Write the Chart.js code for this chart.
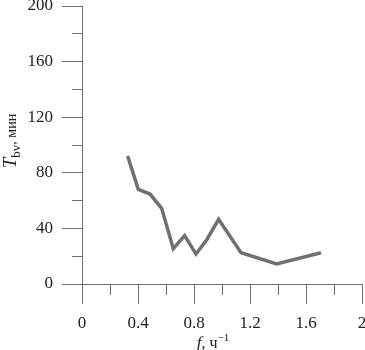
<!DOCTYPE html>
<html>
<head>
<meta charset="utf-8">
<script src="https://cdn.jsdelivr.net/npm/chart.js@4/dist/chart.umd.min.js"></script>
<style>
  html, body { margin: 0; padding: 0; background: #fff; }
  canvas { display: block; }
</style>
</head>
<body>
<canvas id="c" width="365" height="350"></canvas>
<script>
// ---- data ----
const fValues = [0.326, 0.402, 0.486, 0.569, 0.652, 0.733, 0.814, 0.890, 0.976, 1.136, 1.39, 1.707];
const tValues = [92.1, 68.1, 64.7, 54.4, 25.4, 34.8, 21.6, 31.7, 46.5, 22.5, 14.4, 22.5];
const xTickLabels = ['0', '0.4', '0.8', '1.2', '1.6', '2'];
const yTickLabels = ['0', '40', '80', '120', '160', '200'];
const xTitleParts = ['f', ', ч', '−1'];
const yTitleParts = ['T', 'bv', ', мин'];

const points = fValues.map((f, i) => ({ x: f, y: tValues[i] }));
const AXIS = '#6e6e6e';
const TEXT = '#222';
const FONT = '"Liberation Serif", "Times New Roman", serif';

function fixScale(size, horizontal) {
  return function (scale) {
    if (horizontal) scale.height = size; else scale.width = size;
    scale.paddingTop = 0; scale.paddingBottom = 0;
    scale.paddingLeft = 0; scale.paddingRight = 0;
  };
}

const titlePlugin = {
  id: 'axisTitles',
  afterDraw(chart) {
    const ctx = chart.ctx;
    const xs = chart.scales.x, ys = chart.scales.y;
    ctx.save();
    ctx.fillStyle = TEXT;
    ctx.textBaseline = 'alphabetic';
    ctx.textAlign = 'left';
    // x title: italic f, ", ч", superscript -1
    const xf = [
      { t: xTitleParts[0], font: 'italic 17px ' + FONT, dy: 0 },
      { t: xTitleParts[1], font: '16px ' + FONT, dy: 0 },
      { t: xTitleParts[2], font: '11px ' + FONT, dy: -7 }
    ];
    let w = 0;
    xf.forEach(p => { ctx.font = p.font; p.w = ctx.measureText(p.t).width; w += p.w; });
    let x = (xs.left + xs.right) / 2 - 9 - w / 2;
    const by = 348;
    xf.forEach(p => { ctx.font = p.font; ctx.fillText(p.t, x, by + p.dy); x += p.w; });

    // y title rotated
    const yf = [
      { t: yTitleParts[0], font: 'italic 19px ' + FONT, dy: 0 },
      { t: yTitleParts[1], font: '13px ' + FONT, dy: 4 },
      { t: yTitleParts[2], font: '14px ' + FONT, dy: 0 }
    ];
    w = 0;
    yf.forEach(p => { ctx.font = p.font; p.w = ctx.measureText(p.t).width; w += p.w; });
    const cy = (ys.top + ys.bottom) / 2 - 4;
    ctx.translate(16, cy);
    ctx.rotate(-Math.PI / 2);
    let px = -w / 2;
    yf.forEach(p => { ctx.font = p.font; ctx.fillText(p.t, px, p.dy); px += p.w; });
    ctx.restore();
  }
};

new Chart(document.getElementById('c'), {
  type: 'line',
  data: {
    datasets: [{
      data: points,
      borderColor: '#707070',
      borderWidth: 3.5,
      pointRadius: 0,
      tension: 0,
      fill: false
    }]
  },
  options: {
    responsive: false,
    animation: false,
    events: [],
    layout: { padding: { top: 6, right: 3, left: 0, bottom: 0 } },
    plugins: { legend: { display: false }, tooltip: { enabled: false } },
    scales: {
      x: {
        type: 'linear',
        min: 0, max: 2,
        afterFit: fixScale(66, true),
        border: { display: true, color: AXIS, width: 1 },
        grid: {
          drawOnChartArea: false,
          drawTicks: true,
          tickLength: 20,
          tickColor: AXIS,
          tickWidth: 1,
          tickBorderDash: ctx => (ctx.index % 2 ? [10, 100] : [])
        },
        ticks: {
          stepSize: 0.2,
          autoSkip: false,
          maxRotation: 0,
          padding: 9,
          color: TEXT,
          font: { family: FONT, size: 17 },
          callback: (v, i) => (i % 2 === 0 ? xTickLabels[i / 2] : '')
        }
      },
      y: {
        type: 'linear',
        min: 0, max: 200,
        afterFit: fixScale(82, false),
        border: { display: true, color: AXIS, width: 1 },
        grid: {
          drawOnChartArea: false,
          drawTicks: true,
          tickLength: 20,
          tickColor: AXIS,
          tickWidth: 1,
          tickBorderDash: ctx => (ctx.index % 2 ? [0, 10, 10, 100] : [])
        },
        ticks: {
          stepSize: 20,
          autoSkip: false,
          padding: 9,
          color: TEXT,
          font: { family: FONT, size: 17 },
          callback: (v, i) => (i % 2 === 0 ? yTickLabels[i / 2] : '')
        }
      }
    }
  },
  plugins: [titlePlugin]
});
</script>
</body>
</html>
